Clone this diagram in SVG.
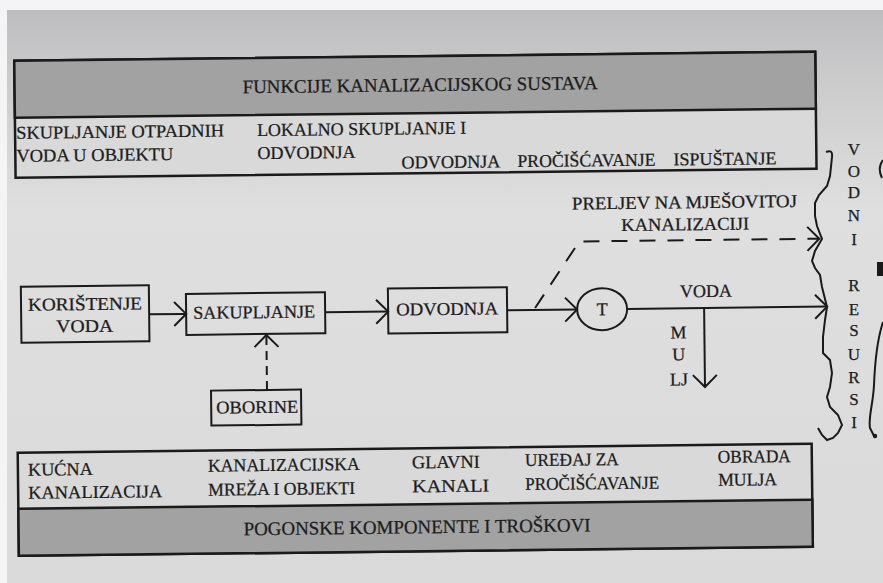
<svg xmlns="http://www.w3.org/2000/svg" width="883" height="583" viewBox="0 0 883 583" font-family="'Liberation Serif', 'Times New Roman', serif">
<defs>
  <linearGradient id="bg" x1="0" y1="0" x2="0" y2="1">
    <stop offset="0" stop-color="#bdbdbf"/>
    <stop offset="0.12" stop-color="#cbcbcc"/>
    <stop offset="0.35" stop-color="#dfdfdf"/>
    <stop offset="1" stop-color="#dadada"/>
  </linearGradient>
  <marker id="ah" markerUnits="userSpaceOnUse" markerWidth="16" markerHeight="28" viewBox="0 0 16 28" refX="14" refY="14" orient="auto">
    <path d="M2,2 L14,14 L2,26" fill="none" stroke="#1a1a1a" stroke-width="2"/>
  </marker>
  <style>
    text { font-family: 'Liberation Serif', 'Times New Roman', serif; fill: #1c1c1c; stroke: #1c1c1c; stroke-width: 0.25; }
    .t18 { font-size: 18px; }
    .t19 { font-size: 19px; }
    .mid { text-anchor: middle; }
    .box { fill: none; stroke: #1a1a1a; stroke-width: 2; }
    .panel { fill: #d9d9d9; stroke: #1a1a1a; stroke-width: 2.5; }
    .band { fill: #a2a2a2; stroke: #1a1a1a; stroke-width: 2.5; }
    .ln { fill: none; stroke: #1a1a1a; stroke-width: 2; }
    .dash1 { stroke-dasharray: 16 12; }
    .dash2 { stroke-dasharray: 9 6; }
  </style>
</defs>

<rect width="883" height="583" fill="#f4f4f4"/>
<rect x="7" y="10" width="876" height="573" fill="url(#bg)"/>

<g transform="rotate(-0.65 441 300)">
  <g id="panel-functions">
    <rect class="panel" x="17" y="56" width="801" height="117"/>
    <rect class="band" x="17" y="56" width="801" height="57"/>
    <text class="t19" x="245" y="91" textLength="355" lengthAdjust="spacingAndGlyphs">FUNKCIJE KANALIZACIJSKOG SUSTAVA</text>
    <text class="t18" x="18" y="134" textLength="208" lengthAdjust="spacingAndGlyphs">SKUPLJANJE OTPADNIH</text>
    <text class="t18" x="18" y="157" textLength="157" lengthAdjust="spacingAndGlyphs">VODA U OBJEKTU</text>
    <text class="t18" x="259" y="134" textLength="209" lengthAdjust="spacingAndGlyphs">LOKALNO SKUPLJANJE I</text>
    <text class="t18" x="259" y="157" textLength="98" lengthAdjust="spacingAndGlyphs">ODVODNJA</text>
    <text class="t18" x="403" y="168" textLength="99" lengthAdjust="spacingAndGlyphs">ODVODNJA</text>
    <text class="t18" x="519" y="168" textLength="138" lengthAdjust="spacingAndGlyphs">PROČIŠĆAVANJE</text>
    <text class="t18" x="675" y="168" textLength="103" lengthAdjust="spacingAndGlyphs">ISPUŠTANJE</text>
  </g>

  <g id="panel-components">
    <rect class="panel" x="16" y="448" width="794" height="103"/>
    <rect class="band" x="16" y="504" width="794" height="47"/>
    <text class="t18" x="26" y="471" textLength="65" lengthAdjust="spacingAndGlyphs">KUĆNA</text>
    <text class="t18" x="26" y="494" textLength="134" lengthAdjust="spacingAndGlyphs">KANALIZACIJA</text>
    <text class="t18" x="206" y="469" textLength="152" lengthAdjust="spacingAndGlyphs">KANALIZACIJSKA</text>
    <text class="t18" x="206" y="493" textLength="147" lengthAdjust="spacingAndGlyphs">MREŽA I OBJEKTI</text>
    <text class="t18" x="410" y="468" textLength="68" lengthAdjust="spacingAndGlyphs">GLAVNI</text>
    <text class="t18" x="410" y="492" textLength="77" lengthAdjust="spacingAndGlyphs">KANALI</text>
    <text class="t18" x="523" y="467" textLength="94" lengthAdjust="spacingAndGlyphs">UREĐAJ ZA</text>
    <text class="t18" x="523" y="491" textLength="134" lengthAdjust="spacingAndGlyphs">PROČIŠĆAVANJE</text>
    <text class="t18" x="716" y="466" textLength="73" lengthAdjust="spacingAndGlyphs">OBRADA</text>
    <text class="t18" x="716" y="489" textLength="59" lengthAdjust="spacingAndGlyphs">MULJA</text>
    <text class="t19" x="241" y="533" textLength="347" lengthAdjust="spacingAndGlyphs">POGONSKE KOMPONENTE I TROŠKOVI</text>
  </g>

  <g id="n-koristenje">
    <rect class="box" x="21" y="282" width="128" height="56"/>
    <text class="t18" x="28" y="306" textLength="114" lengthAdjust="spacingAndGlyphs">KORIŠTENJE</text>
    <text class="t18" x="56" y="328" textLength="57" lengthAdjust="spacingAndGlyphs">VODA</text>
  </g>
  <g id="n-sakupljanje">
    <rect class="box" x="186" y="291" width="139" height="41"/>
    <text class="t18" x="193" y="316" textLength="122" lengthAdjust="spacingAndGlyphs">SAKUPLJANJE</text>
  </g>
  <g id="n-odvodnja">
    <rect class="box" x="388" y="288" width="119" height="45"/>
    <text class="t18" x="396" y="315" textLength="102" lengthAdjust="spacingAndGlyphs">ODVODNJA</text>
  </g>
  <g id="n-oborine">
    <rect class="box" x="210" y="388" width="90" height="35"/>
    <text class="t18" x="215" y="411" textLength="82" lengthAdjust="spacingAndGlyphs">OBORINE</text>
  </g>
  <g id="n-t">
    <ellipse class="box" cx="602" cy="311" rx="25" ry="21"/>
    <text class="t18 mid" x="602" y="317">T</text>
  </g>

  <g id="connectors">
    <line class="ln" x1="149" y1="311" x2="186" y2="311" marker-end="url(#ah)"/>
    <line class="ln" x1="325" y1="311" x2="388" y2="311" marker-end="url(#ah)"/>
    <line class="ln" x1="507" y1="311" x2="577" y2="311" marker-end="url(#ah)"/>
    <line class="ln" x1="627" y1="311" x2="827" y2="311" marker-end="url(#ah)"/>
    <line class="ln" x1="704" y1="311" x2="704" y2="390" marker-end="url(#ah)"/>
    <line class="ln dash2" x1="266" y1="388" x2="266" y2="333" marker-end="url(#ah)"/>
    <polyline class="ln dash1" points="535,309 580,243 820,243" marker-end="url(#ah)"/>
  </g>

  <g id="labels">
    <text class="t18" x="573" y="211" textLength="225" lengthAdjust="spacingAndGlyphs">PRELJEV NA MJEŠOVITOJ</text>
    <text class="t18" x="622" y="233" textLength="128" lengthAdjust="spacingAndGlyphs">KANALIZACIJI</text>
    <text class="t18" x="680" y="300" textLength="52" lengthAdjust="spacingAndGlyphs">VODA</text>
    <text class="t18 mid" x="678" y="341">M</text>
    <text class="t18 mid" x="678" y="363">U</text>
    <text class="t18 mid" x="678" y="388">LJ</text>
  </g>
</g>

<g id="vodni-resursi">
  <path class="ln" d="M826,152 Q833,149 832,157 L830,176 L827,186 L819,195 L815,203 L815,216 L817,226 L822,239 L815,251 L812,261 L815,268 L820,275 L822,287 L827,307 L825,320 L823,337 L823,353 L830,360 L832,373 L830,387 L827,397 L830,407 L838,415 L842,425 L838,433 L833,438 L827,440 L822,435 L818,428"/>
  <path class="ln" d="M883,160 Q877,168 882,178"/>
  <rect x="877" y="262" width="6" height="14" fill="#1a1a1a"/>
  <path class="ln" d="M883,322 C877,340 875,360 874,385 C873,405 868,418 870,428 L874,436"/>
  <circle cx="875" cy="436" r="2.2" fill="#1a1a1a"/>
  <g class="mid" font-size="17">
    <text x="854" y="155">V</text>
    <text x="854" y="177">O</text>
    <text x="854" y="198">D</text>
    <text x="854" y="221">N</text>
    <text x="854" y="245">I</text>
    <text x="854" y="291">R</text>
    <text x="854" y="315">E</text>
    <text x="854" y="336">S</text>
    <text x="854" y="360">U</text>
    <text x="854" y="383">R</text>
    <text x="854" y="405">S</text>
    <text x="854" y="428">I</text>
  </g>
</g>
</svg>
